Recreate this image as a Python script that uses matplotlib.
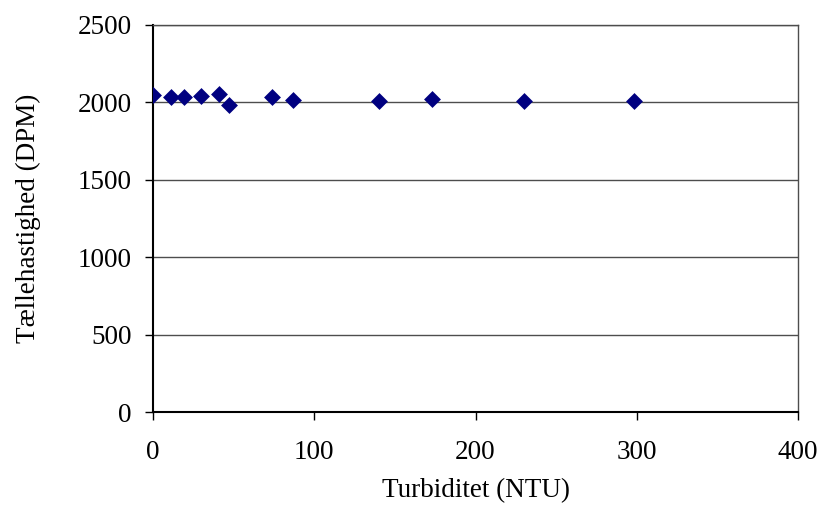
import numpy as np
import matplotlib.pyplot as plt

# Counting rate vs. turbidity
turbidity = [0, 11, 19, 30, 41, 47, 74, 87, 140, 173, 230, 298]
count_rate = [2050, 2033, 2033, 2041, 2054, 1985, 2033, 2018, 2006, 2020, 2006, 2006]

xticks = [0, 100, 200, 300, 400]
yticks = [0, 500, 1000, 1500, 2000, 2500]

plt.rcParams['font.family'] = ['Liberation Serif', 'DejaVu Serif']

fig = plt.figure(figsize=(8.23, 5.07), dpi=100)
ax = fig.add_axes([153/823, 95/507, 645/823, 387/507])

ax.scatter(turbidity, count_rate, marker='D', s=8.6**2, color='#000080', zorder=3, linewidths=0)

ax.set_xlim(0, 400)
ax.set_ylim(0, 2500)
ax.set_xticks(xticks)
ax.set_yticks(yticks)
ax.yaxis.grid(True, color='#4d4d4d', linewidth=1.0)
ax.set_axisbelow(True)

ax.spines['left'].set_color('black')
ax.spines['bottom'].set_color('black')
ax.spines['top'].set_color('#4d4d4d')
ax.spines['right'].set_color('#4d4d4d')
for s in ['left', 'bottom']:
    ax.spines[s].set_linewidth(1.5)
ax.spines['top'].set_linewidth(1.0)
ax.spines['right'].set_linewidth(1.0)

ax.tick_params(axis='both', direction='out', length=5.5, width=1, labelsize=19.5, colors='black')
ax.tick_params(axis='x', pad=15)
ax.tick_params(axis='y', pad=10)

ax.set_xlabel('Turbiditet (NTU)', fontsize=19.5, labelpad=9)
ax.set_ylabel('Tællehastighed (DPM)', fontsize=19.5, labelpad=26)

plt.savefig('out.png', dpi=100)
